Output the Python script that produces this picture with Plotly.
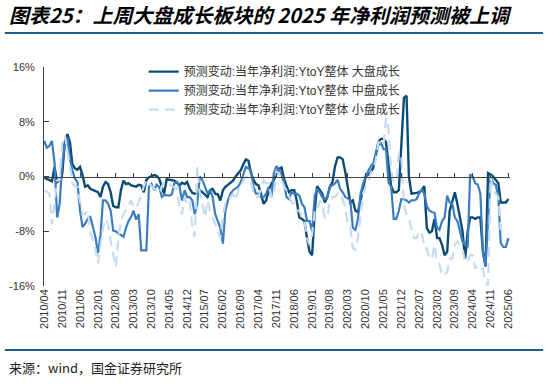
import plotly.graph_objects as go
import pandas as pd

# Monthly readings (%), starting 2010/04
large_cap = [
    -0.1, -0.4, -0.5, -0.7, 1.4, -0.8, -0.5, 0.4, 5.0, 6.2,
    5.0, 1.8, 1.2, 1.0, 1.4, 0.2, -1.5, -1.3, -1.8, -2.0,
    -2.2, -2.3, -3.0, -1.5, -0.8, -1.1, -2.3, -4.3, -4.5, -4.5,
    -2.0, -0.6, -1.1, -1.0, -1.3, -1.4, -1.5, -1.2, -1.3, -2.3,
    -0.5, -0.1, 0.0, 0.2, 0.1, -0.3, -1.5, -2.5, -0.4, -0.5,
    -0.6, -0.6, -0.9, -1.3, -0.9, -1.1, -0.8, -1.8, -2.4, -2.5,
    -2.3, -2.0, -2.3, -2.6, -3.0, -2.0, -1.8, -2.5, -2.6, -3.5,
    -2.0, -1.5, -1.2, -0.9, -0.6, 0.0, 0.4, 0.9, 1.8, 2.5,
    2.3, 0.5, -0.5, -1.1, -1.3, -2.5, -4.0, -3.5, -2.0, -1.1,
    -0.5, 0.4, 1.1, 1.3, -0.4, -1.4, -2.3, -2.0, -2.0, -3.5,
    -6.0, -6.2, -6.5, -9.0, -11.0, -11.5, -5.0, -1.4, -2.0, -2.5,
    -3.8, -3.0, -1.5, -0.8, 1.5, 2.8, 2.8, 2.5, 0.6, -1.4,
    -3.8, -3.5, -5.0, -5.2, -3.5, -1.4, 0.0, 0.3, 0.6, 1.3,
    3.0, 5.0, 5.5, 5.5, 5.0, 1.5, -1.4, -2.3, -2.3, -2.0,
    4.0, 11.5, 11.8, 0.0, -2.5, -2.5, -2.4, -2.3, -2.0, -1.4,
    -7.5, -8.2, -8.0, -6.2, -9.0, -9.0, -10.0, -11.5, -11.0, -5.0,
    -3.5, -2.3, -4.0, -5.8, -8.0, -12.0, -8.0, -6.0, -6.0, -6.2,
    -6.0, -6.0, -11.0, -13.0, 0.5, 0.3, 0.0, -0.5, -1.0, -3.8,
    -3.8, -3.8, -3.3,
]
mid_cap = [
    5.2, 4.2, 4.5, 5.2, 2.0, -6.0, -4.0, 2.0, 4.5, 5.7,
    2.5, 0.9, -0.3, -0.8, -5.0, -7.4, -6.9, -6.2, -5.8, -7.5,
    -8.8, -11.2, -8.5, -3.5, -3.5, -4.0, -5.0, -7.9, -8.0, -8.3,
    -8.5, -8.8, -7.5, -6.5, -5.9, -5.0, -6.3, -5.5, -10.8, -10.8,
    -10.8, -1.5, -1.1, -2.0, -1.2, -1.5, -3.0, -2.7, -2.7, -2.8,
    -2.6, -1.0, -0.8, -1.5, -3.5, -2.0, -3.0, -3.0, -3.5, -5.5,
    -4.0, 0.0, -0.5, -1.5, -2.5, -2.0, -3.0, -5.5, -6.5, -7.5,
    -9.8, -5.0, -3.5, -2.5, -2.0, -1.7, -1.5, -0.8, 0.4, 1.4,
    1.2, 0.8, -1.5, -2.5, -2.5, -3.0, -3.0, -2.5, -1.5, -3.0,
    0.5, 1.5, 1.0, 0.2, -1.0, -3.0, -3.3, -2.3, -2.5, -2.5,
    -2.8, -4.0, -4.5, -6.5, -6.5, -8.0, -2.8, -1.8, -2.3, -3.0,
    -3.3, -3.0, -1.5, -1.3, -1.0, -0.5, -1.8, -2.3, -3.0, -3.2,
    -3.5, -7.5, -7.8, -6.2, -2.5, -1.0, 0.0, 0.8, 1.5, 2.0,
    3.5, 4.5, 5.0, 4.0, 4.0, -0.9, -1.5, -6.2, -6.2, -5.0,
    -3.3, -3.3, -3.5, -3.8, -3.5, -3.5, -3.3, -2.5, -2.0, -2.5,
    -4.3, -5.0, -5.2, -5.3, -7.5, -7.8, -6.5, -6.0, -2.8, -3.8,
    -4.0, -6.0, -6.5, -8.0, -9.5, -10.0, -10.2, 0.3, 0.0, -1.0,
    -1.2, -2.5, -11.0, -13.2, -6.0, 0.2, -1.0, -1.2, -3.0, -9.7,
    -10.3, -10.3, -9.0,
]
small_cap = [
    -2.0, -2.3, -2.5, -7.0, -3.5, -0.6, -0.5, 5.5, 6.0, 4.0,
    1.5, -1.0, -1.5, -1.5, -3.5, -5.5, -5.5, -5.0, -8.0, -9.3,
    -10.5, -12.7, -10.0, -7.5, -6.2, -7.0, -9.5, -11.5, -13.2, -9.0,
    -6.5, -5.5, -4.8, -4.0, -3.5, -4.5, -4.5, -3.8, -2.5, -1.5,
    -0.6, -1.0, -1.5, -1.8, -2.0, -2.5, -1.5, -0.8, -1.0, -1.2,
    -1.5, -1.6, -1.8, -4.9, -5.5, -3.0, -4.0, -3.5, -7.5, -8.8,
    1.4, -2.5, -4.0, -6.0, -3.5, -5.0, -6.0, -7.0, -7.9, -9.0,
    -5.5, -4.0, -3.5, -3.0, -2.5, -3.5, -2.0, -1.5, -0.6, 0.0,
    -0.3, -0.6, -2.5, -3.0, -3.0, -1.5, -0.6, -1.0, -1.0, -3.0,
    -3.0, 0.7, 0.5, -0.5, -1.5, -2.0, -3.0, -3.8, -4.0, -5.0,
    -5.0, -6.0, -6.5, -9.0, -10.0, -8.5, -5.0, -5.0, -3.5, -4.0,
    -6.0, -6.0, -3.5, -3.0, -3.0, -2.5, -2.3, -3.5, -4.5, -7.0,
    -7.5, -10.5, -10.7, -9.0, -6.0, -2.5, -1.5, -1.0, 0.5, 1.0,
    2.5, 5.0, 5.0, 4.5, 8.5, 7.0, 1.0, -0.8, -0.8, 3.5,
    3.0, -4.3, -5.5, -6.0, -7.7, -9.0, -9.0, -8.0, -8.2, -10.5,
    -10.5, -12.0, -12.0, -10.0, -12.5, -12.8, -14.5, -14.3, -14.0, -12.0,
    -12.0, -10.0, -9.5, -10.0, -10.5, -12.5, -12.5, -11.5, -11.5, -13.5,
    -13.0, -13.5, -13.5, -15.5, -15.9, 0.0, -2.0, -2.5, -3.0, -7.7,
    -8.0, -8.4, -8.4,
]

series_names = [
    "预测变动:当年净利润:YtoY整体 大盘成长",
    "预测变动:当年净利润:YtoY整体 中盘成长",
    "预测变动:当年净利润:YtoY整体 小盘成长",
]
x_tick_labels = [
    "2010/04", "2010/11", "2011/06", "2012/01", "2012/08", "2013/03", "2013/10",
    "2014/05", "2014/12", "2015/07", "2016/02", "2016/09", "2017/04", "2017/11",
    "2018/06", "2019/01", "2019/08", "2020/03", "2020/10", "2021/05", "2021/12",
    "2022/07", "2023/02", "2023/09", "2024/04", "2024/11", "2025/06",
]
y_tick_values = [16, 8, 0, -8, -16]
y_tick_labels = ["16%", "8%", "0%", "-8%", "-16%"]

dates = pd.date_range(start="2010-04-01", periods=len(large_cap), freq="MS")
tick_dates = [lab.replace("/", "-") + "-01" for lab in x_tick_labels]

colors = ["#0B4C74", "#3B7DBE", "#C7DCF1"]
dashes = ["solid", "solid", "10px,6px"]
widths = [2.4, 2.2, 2.2]
FONT = "Liberation Sans, Arial, Noto Sans CJK SC, sans-serif"
CJK = "Noto Sans CJK SC, sans-serif"

fig = go.Figure()
for vals, name, c, d, w in zip([large_cap, mid_cap, small_cap], series_names, colors, dashes, widths):
    fig.add_trace(go.Scatter(x=dates, y=vals, mode="lines", name=name,
                             line=dict(color=c, width=w, dash=d)))

# invisible trace for the zero-line axis
fig.add_trace(go.Scatter(x=[dates[0]], y=[0], xaxis="x2", mode="markers",
                         marker=dict(opacity=0), showlegend=False, hoverinfo="skip"))

fig.update_layout(
    width=547, height=384,
    margin=dict(l=44, r=37, t=67, b=98, autoexpand=False),
    paper_bgcolor="white", plot_bgcolor="white",
    font=dict(family=FONT, size=11, color="#333333"),
    showlegend=True,
    legend=dict(x=0.214, y=1.045, xanchor="left", yanchor="top",
                bgcolor="rgba(0,0,0,0)", font=dict(size=12, color="#333333", family=FONT),
                tracegroupgap=0, itemwidth=30),
    xaxis=dict(type="date", range=["2010-03-28", "2025-06-20"],
               tickvals=tick_dates, ticktext=x_tick_labels, tickangle=-90,
               showline=False, showgrid=False, zeroline=False, ticks="",
               tickfont=dict(size=11, color="#333333"), automargin=False),
    xaxis2=dict(type="date", matches="x", overlaying="x", anchor="free", position=0.5,
                side="bottom", showline=True, linecolor="#404040", linewidth=1,
                ticks="inside", ticklen=4, tickcolor="#404040", tickvals=tick_dates,
                showticklabels=False, showgrid=False, zeroline=False),
    yaxis=dict(range=[-16, 16], tickvals=y_tick_values, ticktext=y_tick_labels,
               showline=True, linecolor="#404040", linewidth=1, ticks="inside",
               ticklen=5, tickcolor="#404040", showgrid=False, zeroline=False,
               ticklabelstandoff=6, automargin=False,
               tickfont=dict(size=11, color="#333333")),
)

fig.add_annotation(xref="paper", yref="paper", x=-0.079, y=1.242, xanchor="left", yanchor="middle",
                   text="<b><i>图表25：上周大盘成长板块的 2025 年净利润预测被上调</i></b>",
                   showarrow=False, font=dict(size=20, color="#000000", family=CJK))
fig.add_annotation(xref="paper", yref="paper", x=-0.079, y=-0.374, xanchor="left", yanchor="middle",
                   text="来源：wind，国金证券研究所",
                   showarrow=False, font=dict(size=13, color="#222222", family=CJK))
fig.add_shape(type="line", xref="paper", yref="paper", x0=-0.084, x1=1.071, y0=1.155, y1=1.155,
              line=dict(color="#1F5F8B", width=2))
fig.add_shape(type="line", xref="paper", yref="paper", x0=-0.084, x1=1.071, y0=-0.292, y1=-0.292,
              line=dict(color="#1F5F8B", width=2))

fig.write_html("out.html", config={"displayModeBar": False},
               post_script="document.body.style.margin='0';document.body.style.padding='0';")
